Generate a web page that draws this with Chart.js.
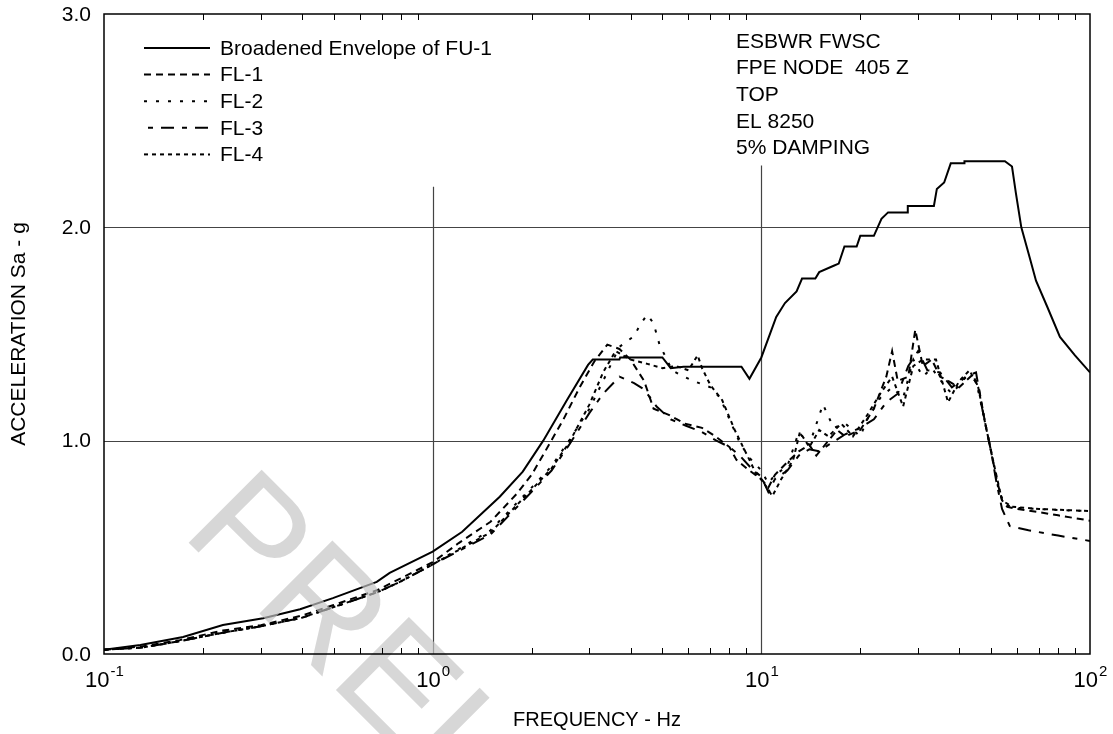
<!DOCTYPE html>
<html>
<head>
<meta charset="utf-8">
<script src="https://cdn.jsdelivr.net/npm/chart.js@4.4.1/dist/chart.umd.min.js"></script>
<style>
html,body{margin:0;padding:0;background:#fff;}
#wrap{width:1113px;height:734px;position:relative;}
</style>
</head>
<body>
<div id="wrap"><canvas id="c" width="1113" height="734"></canvas></div>
<script>
// ---------- DATA ----------
const envFreq = [0.1,0.129,0.174,0.23,0.305,0.395,0.497,0.676,0.74,1.0,1.23,1.6,1.88,2.17,2.56,2.97,3.07,3.7,3.72,5.0,5.3,5.8,8.7,9.2,10,11.1,11.8,12.8,13.3,14.6,15.0,16.6,17.2,17.9,19.5,20.0,22.0,23.2,24.3,27.8,27.9,33.5,34.2,36.0,37.7,41.4,41.5,55.1,57.9,59.5,61.8,65.5,68.5,74,81,90,100];
const envAcc  = [0.02,0.042,0.08,0.136,0.168,0.21,0.262,0.338,0.38,0.48,0.573,0.737,0.855,1.0,1.19,1.355,1.38,1.38,1.39,1.39,1.34,1.347,1.347,1.29,1.39,1.58,1.645,1.70,1.76,1.76,1.79,1.82,1.83,1.91,1.91,1.96,1.96,2.04,2.07,2.07,2.10,2.10,2.18,2.21,2.30,2.30,2.31,2.31,2.285,2.16,2.00,1.86,1.75,1.63,1.486,1.40,1.32];

const fl1Freq = [0.1,0.13,0.17,0.23,0.3,0.4,0.5,0.68,1.0,1.2,1.5,1.8,2.0,2.2,2.5,2.8,3.1,3.4,3.7,4.0,4.4,4.7,5.25,5.85,6.6,7.25,8.0,8.4,9.2,10,10.5,11,12,13,14,14.7,16,17,18,20,22,24,25,26,28,29.4,31,33,35,37,40,44,46,48,50,52,54,56,60,70,80,100];
const fl1Acc  = [0.02,0.035,0.065,0.11,0.135,0.18,0.23,0.30,0.43,0.52,0.62,0.75,0.84,0.95,1.10,1.25,1.37,1.45,1.43,1.38,1.28,1.15,1.12,1.08,1.06,1.02,0.97,0.91,0.86,0.82,0.78,0.84,0.90,0.95,0.98,0.93,1.00,1.05,1.02,1.05,1.15,1.30,1.42,1.28,1.30,1.52,1.35,1.38,1.30,1.28,1.25,1.31,1.24,1.08,0.95,0.82,0.72,0.69,0.68,0.665,0.65,0.625];

const fl2Freq = [0.1,0.13,0.17,0.23,0.3,0.4,0.5,0.68,0.8,1.0,1.5,2.0,2.3,2.6,3.0,3.3,3.7,4.1,4.3,4.5,4.7,4.9,5.2,5.35,5.65,6.2,7.0,7.5,8.0,8.6,9.2,10,10.5,11,12,13,14,15.4,16.6,18,20,21,23,25,27,29,31,33,36,38,42,45,47.6,50,52.7,55,60,80,100];
const fl2Acc  = [0.02,0.03,0.06,0.10,0.13,0.17,0.22,0.29,0.34,0.42,0.58,0.78,0.88,1.00,1.15,1.28,1.44,1.49,1.55,1.59,1.55,1.45,1.37,1.33,1.31,1.28,1.25,1.20,1.10,0.99,0.92,0.86,0.80,0.84,0.88,1.04,0.98,1.17,1.06,1.08,1.02,1.10,1.20,1.25,1.20,1.38,1.30,1.34,1.26,1.22,1.30,1.28,1.11,0.95,0.77,0.70,0.685,0.675,0.67];

const fl3Freq = [0.1,0.13,0.17,0.23,0.3,0.4,0.5,0.68,0.8,1.0,1.5,2.0,2.3,2.6,3.0,3.3,3.7,4.1,4.4,4.8,5.3,5.9,6.6,7.3,8.0,8.6,9.2,10,10.5,11,12,13,14,15,16,18,20,22,24,26,28,30,32,35,38,42,45,47,50,52,54,57,65,80,100];
const fl3Acc  = [0.02,0.03,0.06,0.10,0.13,0.17,0.22,0.29,0.34,0.42,0.56,0.76,0.86,0.98,1.13,1.22,1.30,1.27,1.24,1.16,1.10,1.07,1.04,1.00,0.97,0.93,0.88,0.83,0.76,0.82,0.86,0.93,0.96,0.95,0.98,1.03,1.06,1.10,1.18,1.22,1.35,1.42,1.33,1.32,1.25,1.30,1.32,1.15,0.95,0.80,0.68,0.60,0.58,0.555,0.53];

const fl4Freq = [0.1,0.13,0.17,0.23,0.3,0.4,0.5,0.68,0.8,1.0,1.5,2.0,2.3,2.6,3.0,3.3,3.6,4.0,4.5,5.0,5.5,6.0,6.4,6.6,7.0,7.6,8.3,8.8,9.2,9.6,10.2,10.8,11.5,12.5,13.1,14,15,16,17.5,19,21,23,25,27,29,31,34,37,40,43,45.7,48,51,54,58,70,100];
const fl4Acc  = [0.02,0.03,0.06,0.10,0.13,0.17,0.22,0.29,0.34,0.42,0.57,0.77,0.87,0.99,1.17,1.32,1.42,1.38,1.36,1.34,1.35,1.33,1.40,1.34,1.26,1.19,1.05,0.97,0.91,0.85,0.80,0.74,0.82,0.91,1.04,0.97,1.05,1.02,1.08,1.02,1.12,1.22,1.30,1.16,1.35,1.38,1.38,1.18,1.28,1.33,1.25,1.08,0.89,0.72,0.69,0.68,0.67];

const xMajorTicks = [0.1, 1, 10, 100];
const xTickExp = ['-1', '0', '1', '2'];
const yTicks = [0, 1, 2, 3];
const yTickLabels = ['0.0', '1.0', '2.0', '3.0'];
const seriesNames = ['Broadened Envelope of FU-1', 'FL-1', 'FL-2', 'FL-3', 'FL-4'];
const noteLines = ['ESBWR FWSC', 'FPE NODE  405 Z', 'TOP', 'EL 8250', '5% DAMPING'];

// ---------- BUILD ----------
function pts(fx, fy){ return fx.map((f,i)=>({x:f, y:fy[i]})); }
const dashes = [[], [7,5], [3,9], [5,8,13,8], [4,4]];
const sets = [[envFreq,envAcc],[fl1Freq,fl1Acc],[fl2Freq,fl2Acc],[fl3Freq,fl3Acc],[fl4Freq,fl4Acc]];
const FONT = '"Liberation Sans", Arial, sans-serif';

const decor = {
  id: 'decor',
  beforeDatasetsDraw(chart){
    const ctx = chart.ctx, xs = chart.scales.x, ys = chart.scales.y, a = chart.chartArea;
    ctx.save();
    ctx.strokeStyle = '#444'; ctx.lineWidth = 1.2;
    [1,2].forEach(v=>{ const py = Math.round(ys.getPixelForValue(v))+0.5;
      ctx.beginPath(); ctx.moveTo(a.left, py); ctx.lineTo(a.right, py); ctx.stroke(); });
    [[1,2.19],[10,2.29]].forEach(([f,top])=>{ const px = Math.round(xs.getPixelForValue(f))+0.5;
      ctx.beginPath(); ctx.moveTo(px, a.bottom); ctx.lineTo(px, ys.getPixelForValue(top)); ctx.stroke(); });
    ctx.restore();
  },
  afterDatasetsDraw(chart){
    const ctx = chart.ctx, xs = chart.scales.x, ys = chart.scales.y, a = chart.chartArea;
    ctx.save();
    // watermark
    ctx.save();
    ctx.translate(180, 534);
    ctx.rotate(Math.PI/4);
    ctx.font = '150px ' + FONT;
    ctx.fillStyle = 'rgba(196,196,196,0.68)';
    ctx.textBaseline = 'alphabetic';
    ctx.fillText('PRELIMINARY', 0, 0);
    ctx.restore();

    // frame
    ctx.strokeStyle = '#000'; ctx.lineWidth = 1.5;
    ctx.strokeRect(a.left, a.top, a.right-a.left, a.bottom-a.top);
    // minor ticks
    ctx.lineWidth = 1;
    for (let d = 0.1; d < 100; d *= 10) {
      for (let k = 2; k <= 9; k++) {
        const px = Math.round(xs.getPixelForValue(d*k))+0.5;
        ctx.beginPath(); ctx.moveTo(px, a.bottom); ctx.lineTo(px, a.bottom-6);
        ctx.moveTo(px, a.top); ctx.lineTo(px, a.top+6); ctx.stroke();
      }
    }
    // y tick labels
    ctx.fillStyle = '#000';
    ctx.font = '21px ' + FONT;
    ctx.textAlign = 'right'; ctx.textBaseline = 'middle';
    yTicks.forEach((v,i)=> ctx.fillText(yTickLabels[i], a.left-13, ys.getPixelForValue(v)+1));
    // x tick labels with superscripts
    ctx.textBaseline = 'alphabetic'; ctx.textAlign = 'left';
    xMajorTicks.forEach((v,i)=>{
      const px = xs.getPixelForValue(v);
      ctx.font = '22px ' + FONT; const w1 = ctx.measureText('10').width;
      ctx.font = '15px ' + FONT; const w2 = ctx.measureText(xTickExp[i]).width;
      const x0 = px - (w1+w2)/2;
      ctx.font = '22px ' + FONT; ctx.fillText('10', x0, a.bottom+33);
      ctx.font = '15px ' + FONT; ctx.fillText(xTickExp[i], x0+w1+1, a.bottom+22);
    });
    // axis titles
    ctx.font = '20px ' + FONT; ctx.textAlign = 'center'; ctx.textBaseline = 'middle';
    ctx.fillText('FREQUENCY - Hz', (a.left+a.right)/2, 720);
    ctx.save(); ctx.translate(19, (a.top+a.bottom)/2); ctx.rotate(-Math.PI/2);
    ctx.font = '21px ' + FONT;
    ctx.fillText('ACCELERATION Sa - g', 0, 0); ctx.restore();

    // legend
    ctx.font = '21px ' + FONT; ctx.textAlign = 'left'; ctx.textBaseline = 'middle';
    seriesNames.forEach((n,i)=>{
      const y = 48 + i*26.6;
      ctx.save(); ctx.strokeStyle = '#000'; ctx.lineWidth = 2; ctx.setLineDash(dashes[i]);
      ctx.beginPath(); ctx.moveTo(i===3?148:144, y); ctx.lineTo(210, y); ctx.stroke(); ctx.restore();
      ctx.fillText(n, 220, y+1);
    });
    // note
    noteLines.forEach((t,i)=> ctx.fillText(t, 736, 42 + i*26.6));
    ctx.restore();
  }
};

new Chart(document.getElementById('c'), {
  type: 'line',
  data: {
    datasets: sets.map((s,i)=>({
      label: seriesNames[i],
      data: pts(s[0], s[1]),
      borderColor: '#000',
      borderWidth: 2,
      borderDash: dashes[i],
      pointRadius: 0,
      tension: 0,
      fill: false
    }))
  },
  options: {
    responsive: false,
    animation: false,
    events: [],
    layout: { padding: { left: 104, right: 23, top: 14, bottom: 80 } },
    plugins: { legend: { display: false }, tooltip: { enabled: false }, title: { display: false } },
    scales: {
      x: { type: 'logarithmic', min: 0.1, max: 100, display: false },
      y: { type: 'linear', min: 0, max: 3, display: false }
    }
  },
  plugins: [decor]
});
</script>
</body>
</html>
